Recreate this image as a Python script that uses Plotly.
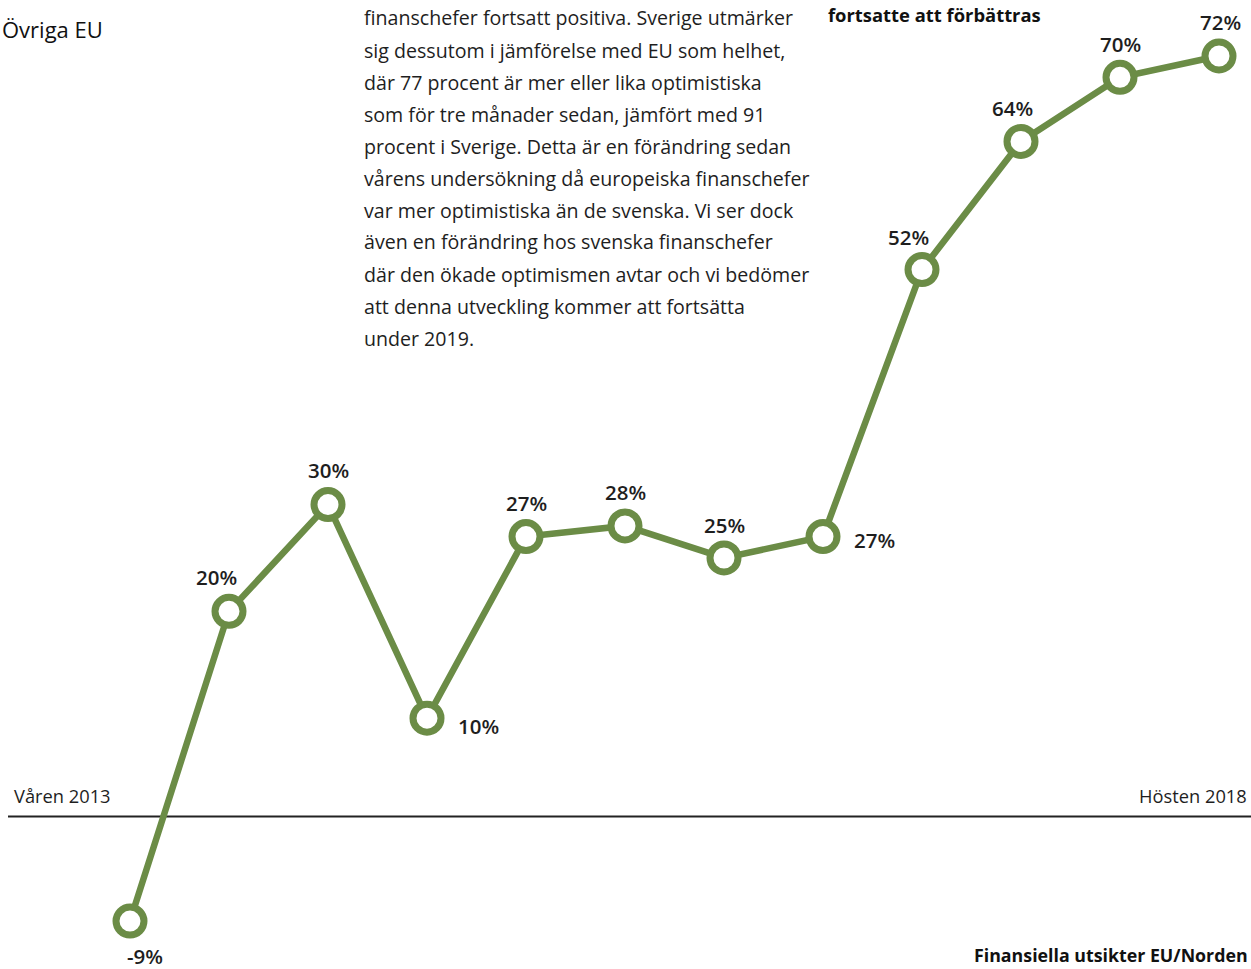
import plotly.graph_objects as go

periods = ["Våren 2013", "Hösten 2013", "Våren 2014", "Hösten 2014", "Våren 2015", "Hösten 2015",
           "Våren 2016", "Hösten 2016", "Våren 2017", "Hösten 2017", "Våren 2018", "Hösten 2018"]
values = [-9, 20, 30, 10, 27, 28, 25, 27, 52, 64, 70, 72]
value_labels = ["-9%", "20%", "30%", "10%", "27%", "28%", "25%", "27%", "52%", "64%", "70%", "72%"]

body_lines = [
    "finanschefer fortsatt positiva. Sverige utmärker",
    "sig dessutom i jämförelse med EU som helhet,",
    "där 77 procent är mer eller lika optimistiska",
    "som för tre månader sedan, jämfört med 91",
    "procent i Sverige. Detta är en förändring sedan",
    "vårens undersökning då europeiska finanschefer",
    "var mer optimistiska än de svenska. Vi ser dock",
    "även en förändring hos svenska finanschefer",
    "där den ökade optimismen avtar och vi bedömer",
    "att denna utveckling kommer att fortsätta",
    "under 2019.",
]

# label offsets (pixels) relative to each point: style only
label_shift = [(15, -35), (-13, 34), (0, 35), (51, -8), (0, 34), (0, 34),
               (0, 33), (51, -3), (-14, 33), (-9, 33), (0, 33), (1, 34)]

GREEN = "#6b8c46"
TXT = "#1e1e1e"
FONT = "Open Sans"

W, H = 1251, 969
fig = go.Figure()
fig.add_trace(go.Scatter(
    x=periods, y=values, mode="lines+markers",
    line=dict(color=GREEN, width=6.5),
    marker=dict(symbol="circle", size=28, color="white", line=dict(color=GREEN, width=7)),
    hoverinfo="skip", showlegend=False,
))

ann = []
for p, v, t, (dx, dy) in zip(periods, values, value_labels, label_shift):
    ann.append(dict(x=p, y=v, xref="x", yref="y", text=t, showarrow=False,
                    xshift=dx, yshift=dy, font=dict(family=FONT, size=20.5, color=TXT, weight=600)))

for i, line in enumerate(body_lines):
    ann.append(dict(x=362 / W, y=1 - (18 + 32 * i) / H, xref="paper", yref="paper",
                    xanchor="left", yanchor="middle", text=line, showarrow=False,
                    font=dict(family=FONT, size=19.6, color=TXT)))

ann.append(dict(x=0, y=1 - 29 / H, xref="paper", yref="paper", xanchor="left", yanchor="middle",
                text="Övriga EU", showarrow=False, font=dict(family=FONT, size=22, color="#111", weight=500)))
ann.append(dict(x=826 / W, y=1 - 15 / H, xref="paper", yref="paper", xanchor="left", yanchor="middle",
                text="<b>fortsatte att förbättras</b>", showarrow=False, font=dict(family=FONT, size=18.4, color="#111")))
ann.append(dict(x=12 / W, y=1 - 795 / H, xref="paper", yref="paper", xanchor="left", yanchor="middle",
                text=periods[0], showarrow=False, font=dict(family=FONT, size=18.3, color=TXT)))
ann.append(dict(x=1249 / W, y=1 - 795 / H, xref="paper", yref="paper", xanchor="right", yanchor="middle",
                text=periods[-1], showarrow=False, font=dict(family=FONT, size=18.3, color=TXT)))
ann.append(dict(x=972 / W, y=1 - 955 / H, xref="paper", yref="paper", xanchor="left", yanchor="middle",
                text="<b>Finansiella utsikter EU/Norden</b>", showarrow=False, font=dict(family=FONT, size=17.8, color="#111")))

fig.update_layout(
    width=W, height=H, margin=dict(l=0, r=0, t=0, b=0),
    paper_bgcolor="white", plot_bgcolor="white",
    xaxis=dict(range=[-130 / 99, (W - 130) / 99], visible=False, fixedrange=True),
    yaxis=dict(range=[72 - (969 - 56) / 10.68, 72 + 56 / 10.68], visible=False, fixedrange=True),
    annotations=ann,
    shapes=[dict(type="line", xref="paper", yref="y", x0=8 / W, x1=1, y0=0.8, y1=0.8,
                 line=dict(color="#222", width=2), layer="below")],
)
fig.write_html("out.html", config={"displayModeBar": False},
               post_script="document.body.style.margin='0';document.body.style.overflow='hidden';")
